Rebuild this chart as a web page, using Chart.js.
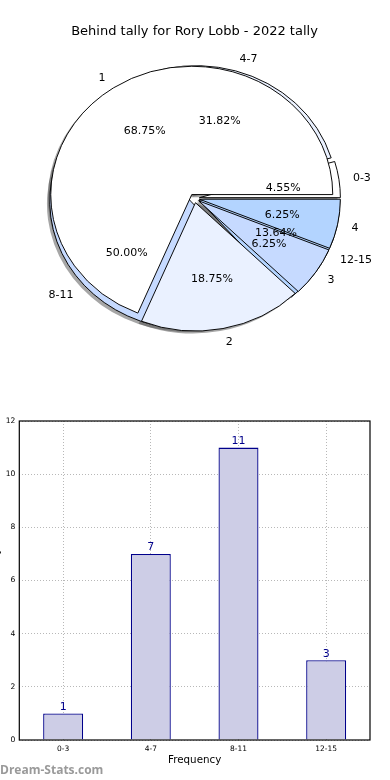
<!DOCTYPE html>
<html>
<head>
<meta charset="utf-8">
<script src="https://cdn.jsdelivr.net/npm/chart.js@4"></script>
<style>
  html, body { margin: 0; padding: 0; background: #fff; overflow: hidden; }
  body { position: relative; width: 390px; height: 780px; }
  #pie { position: absolute; left: 0; top: 0; }
  #bar { position: absolute; left: -14px; top: 390px; }
  #mark { position: absolute; left: 0; top: 761px; font: bold 12px "Open Sans", sans-serif; color: #9a9a9a; }
</style>
</head>
<body>
<canvas id="pie" width="390" height="390"></canvas>
<canvas id="bar" width="404" height="390"></canvas>
<div id="mark">Dream-Stats.com</div>
<script>
const chartTitle = 'Behind tally for Rory Lobb - 2022 tally';

const tallyLabels = ['0-3', '4-7', '8-11', '12-15'];
const tallyValues = [1, 7, 11, 3];

const behindLabels = ['1', '2', '3', '4'];
const behindValues = [11, 3, 1, 1];

const sliceColors = ['#ffffff', '#eaf1ff', '#c6daff', '#b3d4ff'];

const yMin = 0;
const yMax = 12;
const yStep = 2;

// matplotlib look: ellipse pie, small explode, drop shadow
const pieRatio = 0.91;
const explodeFrac = 0.035;
const shadowFrac = 0.02;

function pieCenter(chart) {
  const ca = chart.chartArea;
  return {
    x: (ca.left + ca.right) / 2,
    y: (ca.top + ca.bottom) / 2,
    r: Math.min(ca.width, ca.height) / 2
  };
}

// both datasets as full pies on top of each other instead of rings
const overlapPies = {
  id: 'overlapPies',
  afterUpdate(chart) {
    const c = pieCenter(chart);
    chart.data.datasets.forEach((ds, di) => {
      chart.getDatasetMeta(di).data.forEach(arc => {
        const mid = (arc.startAngle + arc.endAngle) / 2;
        arc.x = c.x + Math.cos(mid) * c.r * explodeFrac;
        arc.y = c.y + Math.sin(mid) * c.r * explodeFrac;
        arc.innerRadius = 0;
        arc.outerRadius = c.r;
      });
    });
  },
  beforeDatasetsDraw(chart) {
    const ctx = chart.ctx;
    const c = pieCenter(chart);
    ctx.save();
    ctx.translate(c.x, c.y);
    ctx.scale(1, -pieRatio);
    ctx.translate(-c.x, -c.y);

    ctx.save();
    ctx.translate(-c.r * shadowFrac, -c.r * shadowFrac);
    ctx.fillStyle = 'rgba(77,77,77,0.5)';
    [1, 0].forEach(di => {
      chart.getDatasetMeta(di).data.forEach(arc => {
        ctx.beginPath();
        ctx.moveTo(arc.x, arc.y);
        ctx.arc(arc.x, arc.y, arc.outerRadius, arc.startAngle, arc.endAngle);
        ctx.closePath();
        ctx.fill();
      });
    });
    ctx.restore();
  },
  afterDatasetsDraw(chart) {
    const ctx = chart.ctx;
    ctx.restore();

    const c = pieCenter(chart);
    const ex = c.r * explodeFrac;
    const names = [behindLabels, tallyLabels];
    ctx.save();
    ctx.font = '11px "DejaVu Sans"';
    ctx.fillStyle = '#000';
    ctx.textBaseline = 'middle';
    [1, 0].forEach(di => {
      const ds = chart.data.datasets[di];
      const total = ds.data.reduce((a, b) => a + b, 0);
      chart.getDatasetMeta(di).data.forEach((arc, i) => {
        const mid = (arc.startAngle + arc.endAngle) / 2;
        const cos = Math.cos(mid), sin = Math.sin(mid);
        const dl = ex + 1.1 * c.r;
        ctx.textAlign = cos > 0 ? 'left' : 'right';
        ctx.fillText(names[di][i], c.x + cos * dl, c.y + 1 - sin * dl * pieRatio);
        const dp = ex + 0.6 * c.r;
        ctx.textAlign = 'center';
        ctx.fillText((ds.data[i] / total * 100).toFixed(2) + '%', c.x + cos * dp, c.y + 1 - sin * dp * pieRatio);
      });
    });
    ctx.restore();
  }
};

new Chart(document.getElementById('pie'), {
  type: 'pie',
  data: {
    labels: tallyLabels,
    datasets: [
      { data: behindValues, backgroundColor: sliceColors, borderColor: '#000', borderWidth: 1 },
      { data: tallyValues, backgroundColor: sliceColors, borderColor: '#000', borderWidth: 1 }
    ]
  },
  options: {
    responsive: false,
    animation: false,
    rotation: 90,
    layout: { padding: { left: 0, right: 1, top: 0, bottom: 50.7 } },
    plugins: {
      legend: { display: false },
      tooltip: { enabled: false },
      title: {
        display: true,
        text: chartTitle,
        color: '#000',
        font: { family: 'DejaVu Sans', size: 13, weight: 'normal' },
        padding: { top: 24, bottom: 17.7 }
      }
    }
  },
  plugins: [overlapPies]
});

const barExtras = {
  id: 'barExtras',
  afterDatasetsDraw(chart) {
    const ctx = chart.ctx;
    ctx.save();
    ctx.font = '11px "DejaVu Sans"';
    ctx.fillStyle = '#00008b';
    ctx.textAlign = 'center';
    ctx.textBaseline = 'bottom';
    chart.getDatasetMeta(0).data.forEach((bar, i) => {
      ctx.fillText(String(chart.data.datasets[0].data[i]), bar.x, bar.y - 1);
    });
    ctx.restore();
  },
  afterDraw(chart) {
    const ctx = chart.ctx;
    const ca = chart.chartArea;
    ctx.save();
    ctx.strokeStyle = '#000';
    ctx.lineWidth = 1.2;
    ctx.strokeRect(ca.left, ca.top, ca.width, ca.height);
    ctx.restore();
  }
};

const gridDots = { color: '#b8b8b8', lineWidth: 1, drawTicks: false, offset: false };

new Chart(document.getElementById('bar'), {
  type: 'bar',
  data: {
    labels: tallyLabels,
    datasets: [{
      data: tallyValues,
      backgroundColor: '#cdcde6',
      borderColor: '#00008b',
      borderWidth: 1.3,
      categoryPercentage: 1,
      barPercentage: 0.456
    }]
  },
  options: {
    responsive: false,
    animation: false,
    layout: { padding: { left: 0, right: 20, top: 31, bottom: 0 } },
    plugins: { legend: { display: false }, tooltip: { enabled: false } },
    scales: {
      x: {
        z: 1,
        grid: gridDots,
        border: { display: false, dash: [1, 2] },
        ticks: { color: '#000', font: { family: 'DejaVu Sans', size: 7.5 }, padding: 5, maxRotation: 0 },
        title: {
          display: true,
          text: 'Frequency',
          color: '#000',
          font: { family: 'DejaVu Sans', size: 10.3 },
          padding: { top: 0, bottom: 13 }
        },
        afterFit(scale) { scale.height = 40; }
      },
      y: {
        z: 1,
        min: yMin,
        max: yMax,
        grid: gridDots,
        border: { display: false, dash: [1, 2] },
        ticks: { stepSize: yStep, color: '#000', font: { family: 'DejaVu Sans', size: 7.6 }, padding: 4 },
        title: {
          display: true,
          text: 'Behind tally',
          color: '#000',
          font: { family: 'DejaVu Sans', size: 11 },
          padding: { top: 4, bottom: 0 }
        },
        afterFit(scale) { scale.width = 33.3; }
      }
    }
  },
  plugins: [barExtras]
});
</script>
</body>
</html>
